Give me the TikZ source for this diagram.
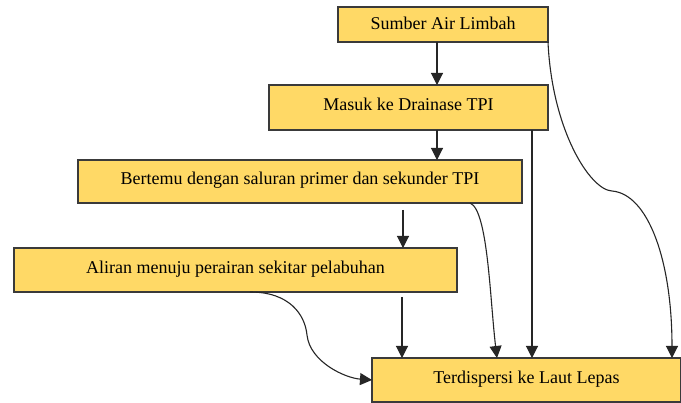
\documentclass[tikz,border=0pt]{standalone}
\usepackage{fontspec}
\setmainfont{Liberation Serif}
\usetikzlibrary{arrows.meta}
\definecolor{boxfill}{HTML}{FFD966}
\definecolor{boxline}{HTML}{3A3A3A}
\definecolor{conn}{HTML}{262626}
\tikzset{
  flowbox/.style={draw=boxline, fill=boxfill, line width=1.4pt, inner sep=0pt, outer sep=0pt,
    font=\rmfamily\fontsize{18}{22}\selectfont, text height=12.5pt, text depth=5.5pt},
  flowarrow/.style={draw=conn, line width=1.1pt, -{Triangle[length=12pt,width=12pt]}}
}
\begin{document}
\begin{tikzpicture}[x=1pt,y=-1pt]
\useasboundingbox (0,0) rectangle (681,403);
\node[flowbox, minimum width=210pt, minimum height=35pt, text height=12pt, text depth=1pt] (b1) at (443,24.5) {Sumber Air Limbah};
\node[flowbox, minimum width=279pt, minimum height=45pt] (b2) at (408.5,107.5) {Masuk ke Drainase TPI};
\node[flowbox, minimum width=444pt, minimum height=43pt] (b3) at (300,181.5) {Bertemu dengan saluran primer dan sekunder TPI};
\node[flowbox, minimum width=443pt, minimum height=44pt] (b4) at (235.5,270) {Aliran menuju perairan sekitar pelabuhan};
\node[flowbox, minimum width=309pt, minimum height=44pt] (b5) at (526.5,380) {Terdispersi ke Laut Lepas};

\coordinate (s34) at (403,210);
\coordinate (s45) at (402,297);
\coordinate (s25) at (532,130);
\coordinate (s35) at (470,203);
\coordinate (s45c) at (250,292);

\draw[flowarrow] (437,42) -- (b2.north -| 437,0);
\draw[flowarrow] (b2.south -| 437,0) -- (b3.north -| 437,0);
\draw[flowarrow] (s34) -- (b4.north -| s34);
\draw[flowarrow] (s45) -- (b5.north -| s45);
\draw[flowarrow] (s25) -- (b5.north -| s25);
\draw[flowarrow] (b1.south east) .. controls (552,130) and (590,190) .. (612,191)
   .. controls (648,194) and (672,260) .. (672,358);
\draw[flowarrow] (s35) .. controls (488,210) and (490,300) .. (497,358);
\draw[flowarrow] (s45c) .. controls (290,292) and (305,315) .. (307,335)
   .. controls (310,362) and (345,378) .. (b5.west);
\end{tikzpicture}
\end{document}
